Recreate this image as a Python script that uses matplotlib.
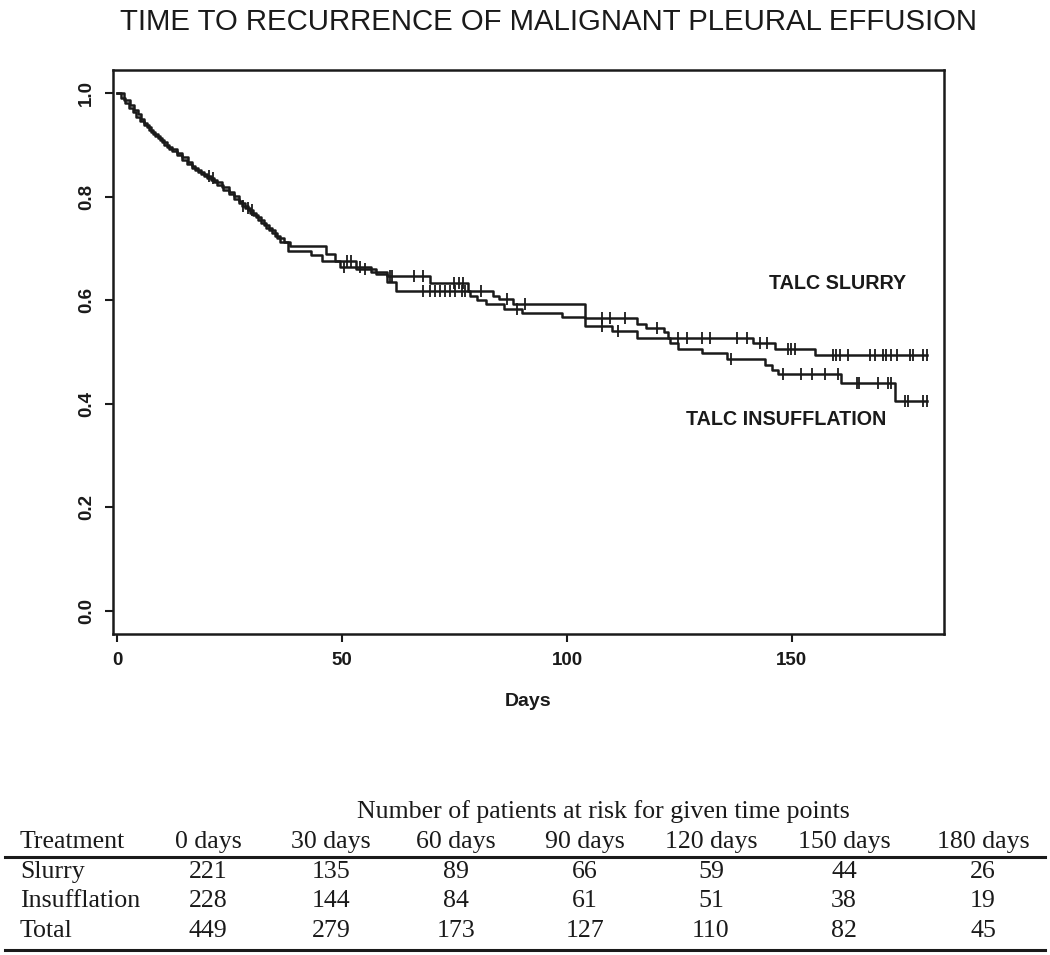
import numpy as np
import matplotlib
matplotlib.use("Agg")
import matplotlib.pyplot as plt
from matplotlib.lines import Line2D

plt.rcParams['font.family'] = ['Liberation Sans', 'DejaVu Sans']

# ---------------- data ----------------
title = "TIME TO RECURRENCE OF MALIGNANT PLEURAL EFFUSION"

slurry_times = [0.8, 1.8, 2.6, 3.5, 4.3, 5.2, 6.1, 7, 8, 9, 10, 11, 12.2, 13.3, 14.4, 15.5,
                16.7, 18, 19.3, 20.8, 22.2, 23.5, 24.8, 26, 27.2, 28.4, 29.6, 30.8, 32, 33.2,
                34.4, 35.6, 37, 38.5, 46.5, 48.5, 53, 56.5, 60, 69.5, 78, 83.5, 85, 88,
                104, 115.5, 117.5, 121.5, 122.5, 141.4, 146.2, 155.1]
slurry_surv = [0.99, 0.981, 0.972, 0.963, 0.955, 0.946, 0.938, 0.93, 0.922, 0.913, 0.905,
               0.897, 0.889, 0.88, 0.872, 0.864, 0.856, 0.848, 0.84, 0.832, 0.823, 0.814,
               0.805, 0.796, 0.787, 0.778, 0.769, 0.76, 0.75, 0.74, 0.73, 0.72, 0.712, 0.705,
               0.69, 0.676, 0.665, 0.655, 0.647, 0.634, 0.617, 0.609, 0.603, 0.593,
               0.565, 0.555, 0.547, 0.538, 0.528, 0.518, 0.505, 0.494]
slurry_censor = [20.5, 29, 51, 52, 54, 60.6, 61.2, 65.9, 68.1, 75, 76, 76.8, 81, 86.6, 90.7,
                 107.7, 109.6, 112.9, 119.9, 124.7, 126.6, 130, 131.8, 137.7, 140, 143, 144.5,
                 149.2, 149.9, 150.7, 159.2, 159.9, 160.7, 162.5, 167.3, 168.4, 170.3, 171,
                 172.1, 173.3, 176.2, 177, 179.2, 180]

insuff_times = [1.6, 2.9, 3.8, 4.6, 5.3, 5.9, 6.6, 7.5, 8.5, 9.5, 10.5, 11.6, 13.3, 14.5, 15.7,
                16.7, 17.3, 18.6, 20, 21.5, 23.4, 24.8, 26, 27.1, 27.8, 29, 30.2, 31.4,
                32.6, 33.8, 35, 36.3, 38, 43, 45.5, 49.5, 53, 57.5, 60, 62, 78.5, 80, 82, 86,
                90, 99, 104, 110, 115.5, 122.9, 124.7, 130, 135.5, 144, 145.5, 147, 161, 172.9]
insuff_surv = [0.987, 0.977, 0.968, 0.959, 0.95, 0.942, 0.934, 0.926, 0.918, 0.909, 0.901,
               0.893, 0.885, 0.876, 0.868, 0.86, 0.852, 0.844, 0.836, 0.828, 0.819, 0.81,
               0.801, 0.792, 0.783, 0.774, 0.765, 0.755, 0.745, 0.735, 0.725, 0.712, 0.696,
               0.688, 0.676, 0.665, 0.66, 0.65, 0.635, 0.618, 0.609, 0.6, 0.593, 0.583, 0.576,
               0.567, 0.55, 0.54, 0.528, 0.518, 0.505, 0.499, 0.486, 0.475, 0.465, 0.457,
               0.44, 0.405]
insuff_censor = [21.3, 28, 30, 50.5, 55, 68.1, 69.6, 70.7, 71.8, 72.9, 74, 75.1, 76.6, 77.3, 88.8,
                 107.7, 111.4, 136.5, 148, 152.1, 154.4, 157.3, 160.3, 164.4, 165, 169.2, 171.4,
                 172.1, 175.1, 175.8, 179.2, 180]

end_day = 180

risk_header = "Number of patients at risk for given time points"
risk_cols = ["0 days", "30 days", "60 days", "90 days", "120 days", "150 days", "180 days"]
risk_rows = ["Slurry", "Insufflation", "Total"]
slurry_risk = [221, 135, 89, 66, 59, 44, 26]
insuff_risk = [228, 144, 84, 61, 51, 38, 19]
total_risk = [449, 279, 173, 127, 110, 82, 45]

# ---------------- figure ----------------
W, H = 1050, 955
INK = '#1a1a1a'
fig = plt.figure(figsize=(W / 100, H / 100), dpi=100)
ax = fig.add_axes([113 / W, 1 - 634 / H, (944 - 113) / W, (634 - 70) / H])


def draw_km(times, surv, censor):
    t = np.concatenate([[0.0], times, [end_day]])
    s = np.concatenate([[1.0], surv, [surv[-1]]])
    ax.step(t, s, where='post', color=INK, lw=1.8)
    idx = np.searchsorted(np.asarray(times), np.asarray(censor), side='right')
    cs = np.concatenate([[1.0], surv])[idx]
    ax.plot(censor, cs, ls='none', marker='|', ms=8, mew=1.3, color=INK)


draw_km(slurry_times, slurry_surv, slurry_censor)
draw_km(insuff_times, insuff_surv, insuff_censor)

ax.set_xlim(-0.9, 183.8)
ax.set_ylim(-0.045, 1.045)
ax.set_xticks([0, 50, 100, 150])
ax.set_yticks([0.0, 0.2, 0.4, 0.6, 0.8, 1.0])
ax.set_yticklabels(["0.0", "0.2", "0.4", "0.6", "0.8", "1.0"], rotation=90, va='center')
ax.tick_params(direction='out', length=6, width=1.5, labelsize=13.5, pad=7, colors=INK)
for lab in ax.get_xticklabels() + ax.get_yticklabels():
    lab.set_fontweight('bold')
for sp in ax.spines.values():
    sp.set_linewidth(1.8)
    sp.set_color(INK)
ax.set_xlabel("Days", fontsize=14, fontweight='bold', labelpad=17, color=INK)

ax.text(160.2, 0.632, "TALC SLURRY", ha='center', va='center', fontsize=14.2,
        fontweight='bold', color=INK)
ax.text(148.7, 0.37, "TALC INSUFFLATION", ha='center', va='center', fontsize=14.2,
        fontweight='bold', color=INK)

fig.text(548 / W, 1 - 22 / H, title, ha='center', va='center', fontsize=21.2, color=INK)

# ---------------- at-risk table ----------------
serif = ['Liberation Serif', 'DejaVu Serif']
tfs = 18.6
col_x = [208, 331, 456, 585, 711, 844, 983]
fig.text(603 / W, 1 - 812 / H, risk_header, ha='center', va='center', fontsize=tfs,
         family=serif, color=INK)
fig.text(20 / W, 1 - 842 / H, "Treatment", ha='left', va='center', fontsize=tfs,
         family=serif, color=INK)
for x, c in zip(col_x, risk_cols):
    fig.text(x / W, 1 - 842 / H, c, ha='center', va='center', fontsize=tfs, family=serif,
             color=INK)
for ry, name, vals in zip([872, 901, 931], risk_rows, [slurry_risk, insuff_risk, total_risk]):
    fig.text(20 / W, 1 - ry / H, name, ha='left', va='center', fontsize=tfs, family=serif,
             color=INK)
    for x, v in zip(col_x, vals):
        fig.text(x / W, 1 - ry / H, str(v), ha='center', va='center', fontsize=tfs,
                 family=serif, color=INK)

for ly in [857, 950]:
    fig.add_artist(Line2D([5 / W, 1045 / W], [1 - ly / H, 1 - ly / H], lw=2.2,
                          color=INK, transform=fig.transFigure))

fig.savefig("out.png", dpi=100, facecolor='white')
